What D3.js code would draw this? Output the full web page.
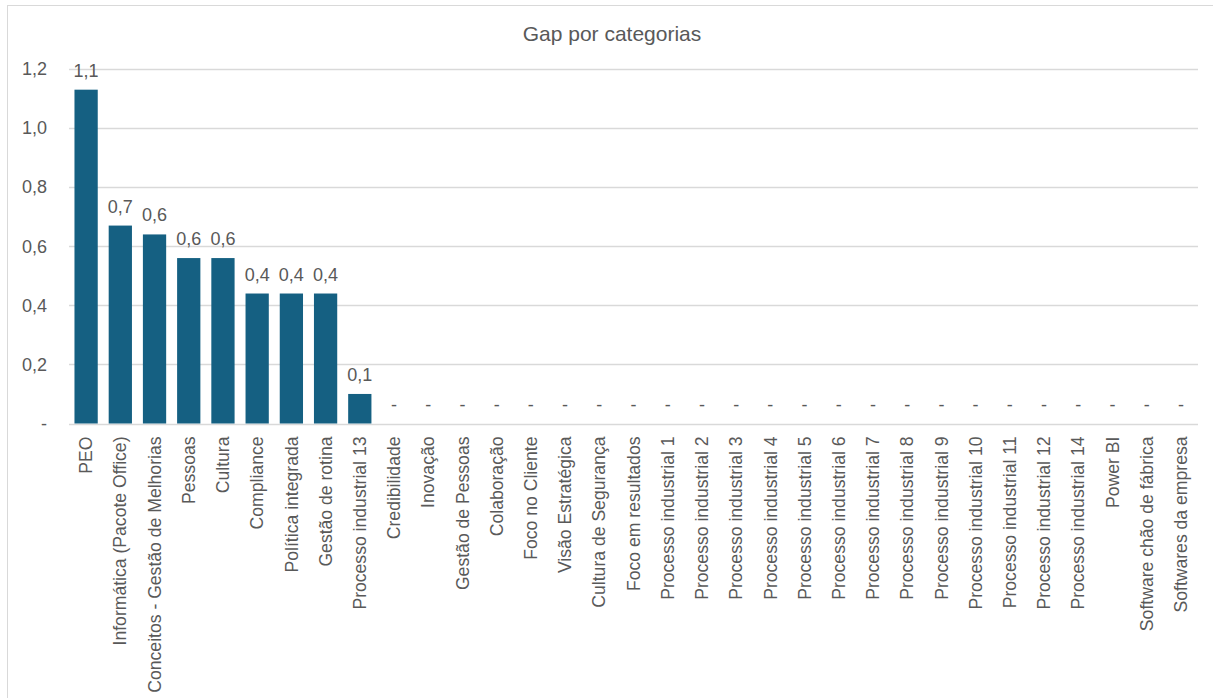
<!DOCTYPE html>
<html>
<head>
<meta charset="utf-8">
<script src="https://cdn.jsdelivr.net/npm/d3@7"></script>
<style>
  body { margin: 0; background: #fff; }
  text { font-family: "Liberation Sans", Arial, sans-serif; fill: #595959; }
</style>
</head>
<body>
<svg id="chart"></svg>
<script>
var width = 1213;
var height = 698;
var padding = { top: 69, right: 15, bottom: 274.5, left: 69 };

var categories = [
  "PEO", "Informática (Pacote Office)", "Conceitos - Gestão de Melhorias", "Pessoas",
  "Cultura", "Compliance", "Política integrada", "Gestão de rotina", "Processo industrial 13",
  "Credibilidade", "Inovação", "Gestão de Pessoas", "Colaboração", "Foco no Cliente",
  "Visão Estratégica", "Cultura de Segurança", "Foco em resultados",
  "Processo industrial 1", "Processo industrial 2", "Processo industrial 3", "Processo industrial 4",
  "Processo industrial 5", "Processo industrial 6", "Processo industrial 7", "Processo industrial 8",
  "Processo industrial 9", "Processo industrial 10", "Processo industrial 11", "Processo industrial 12",
  "Processo industrial 14", "Power BI", "Software chão de fábrica", "Softwares da empresa"
];
var gaps = [1.13, 0.67, 0.64, 0.56, 0.56, 0.44, 0.44, 0.44, 0.10,
  0, 0, 0, 0, 0, 0, 0, 0, 0, 0, 0, 0, 0, 0, 0, 0, 0, 0, 0, 0, 0, 0, 0, 0];
var yTicks = [0, 0.2, 0.4, 0.6, 0.8, 1.0, 1.2];
var title = "Gap por categorias";

var data = categories.map(function(c, i) {
  return { name: c, value: gaps[i] };
});

function fmt(v) {
  return v === 0 ? "-" : d3.format(".1f")(v).replace(".", ",");
}

var svg = d3.select("#chart")
    .attr("width", width)
    .attr("height", height);

// chart frame
svg.append("rect")
    .attr("x", 7.5)
    .attr("y", 5.5)
    .attr("width", 1220)
    .attr("height", 720)
    .attr("fill", "#fff")
    .attr("stroke", "#d9d9d9");

var xScale = d3.scaleBand()
    .domain(categories)
    .range([padding.left, width - padding.right])
    .paddingInner(0.32)
    .paddingOuter(0.16);

var yScale = d3.scaleLinear()
    .domain([0, 1.2])
    .range([height - padding.bottom, padding.top]);

// gridlines
svg.append("g")
  .selectAll("line")
  .data(yTicks)
  .enter()
  .append("line")
    .attr("x1", padding.left)
    .attr("x2", width - padding.right)
    .attr("y1", function(d) { return Math.round(yScale(d)) + 0.5; })
    .attr("y2", function(d) { return Math.round(yScale(d)) + 0.5; })
    .attr("stroke", "#d9d9d9")
    .attr("stroke-width", 1.3);

// y axis labels
var yAxis = d3.axisLeft(yScale)
    .tickValues(yTicks)
    .tickFormat(fmt)
    .tickSize(0)
    .tickPadding(22);

svg.append("g")
    .attr("transform", "translate(" + padding.left + ",0)")
    .call(yAxis)
    .call(function(g) { g.select(".domain").remove(); })
  .selectAll("text")
    .attr("font-size", 18)
    .attr("fill", "#595959")
    .style("font-family", "'Liberation Sans', Arial, sans-serif");

// bars
svg.append("g")
  .selectAll("rect")
  .data(data)
  .enter()
  .append("rect")
    .attr("x", function(d) { return xScale(d.name); })
    .attr("width", xScale.bandwidth())
    .attr("y", function(d) { return yScale(d.value); })
    .attr("height", function(d) { return yScale(0) - yScale(d.value); })
    .attr("fill", "#156082");

// data labels
svg.append("g")
  .selectAll("text")
  .data(data)
  .enter()
  .append("text")
    .attr("x", function(d) { return xScale(d.name) + xScale.bandwidth() / 2; })
    .attr("y", function(d) { return yScale(d.value) - 13; })
    .attr("text-anchor", "middle")
    .attr("font-size", 18)
    .text(function(d) { return fmt(d.value); });

// category labels
svg.append("g")
  .selectAll("text")
  .data(data)
  .enter()
  .append("text")
    .attr("transform", function(d) {
      return "translate(" + (xScale(d.name) + xScale.bandwidth() / 2) + "," + (yScale(0) + 13) + ") rotate(-90)";
    })
    .attr("dy", "0.35em")
    .attr("text-anchor", "end")
    .attr("font-size", 17.6)
    .text(function(d) { return d.name; });

// title
svg.append("text")
    .attr("x", 612)
    .attr("y", 41)
    .attr("text-anchor", "middle")
    .attr("font-size", 21)
    .text(title);
</script>
</body>
</html>
